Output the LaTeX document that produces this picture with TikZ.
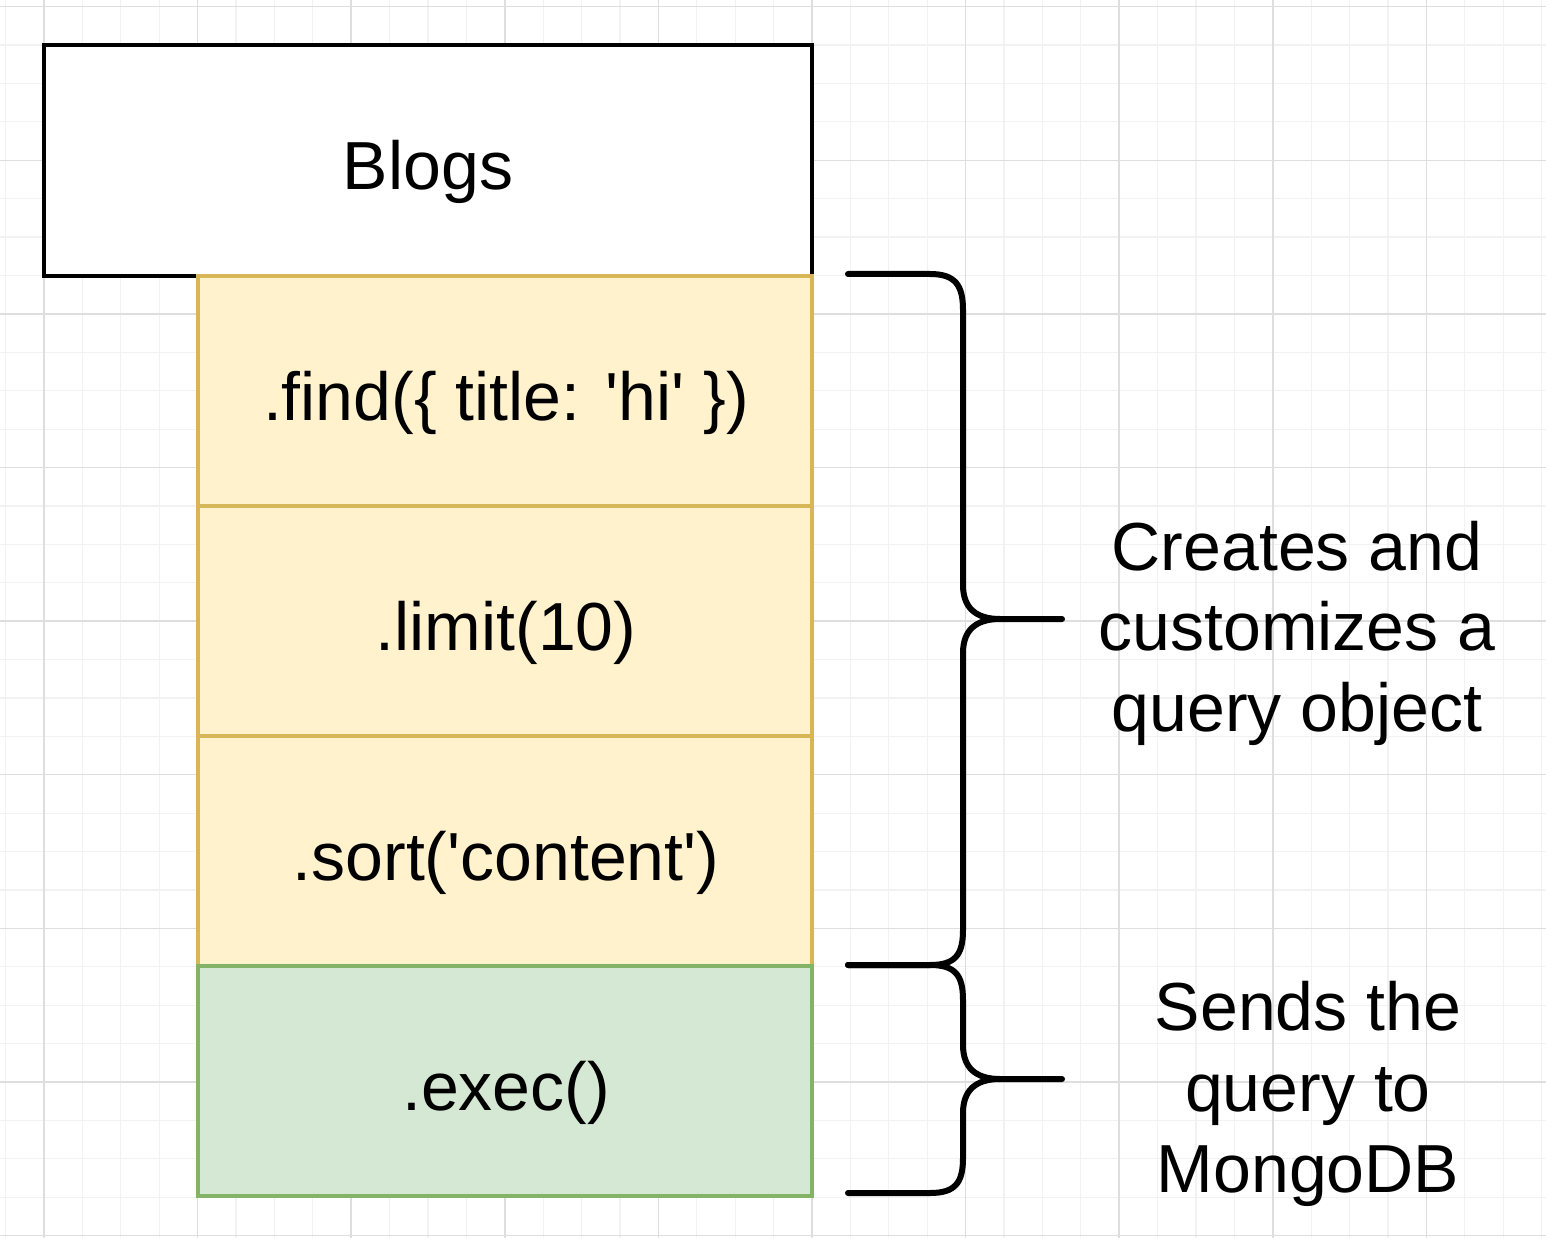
\documentclass[tikz,border=0pt]{standalone}
\usepackage{fontspec}
\setmainfont{Liberation Sans}
\definecolor{gridmajor}{HTML}{DEDEDE}
\definecolor{gridminor}{HTML}{F2F2F2}
\definecolor{yfill}{HTML}{FFF2CC}
\definecolor{ystroke}{HTML}{D6B656}
\definecolor{gfill}{HTML}{D5E8D4}
\definecolor{gstroke}{HTML}{82B366}
\newcommand{\sq}{\textquotesingle}
\tikzset{
  x=1pt, y=-1pt,
  big/.style={font=\fontsize{68}{81}\selectfont, inner sep=0pt, text=black},
  yellowbox/.style={fill=yfill, draw=ystroke, line width=3.5pt},
  greenbox/.style={fill=gfill, draw=gstroke, line width=3.5pt},
  bracestyle/.style={draw=black, line width=6pt, line cap=round, line join=round},
}
\begin{document}
\begin{tikzpicture}
\useasboundingbox (0,0) rectangle (1546,1238);
\fill[white] (0,0) rectangle (1546,1238);
% grid
\foreach \k in {-1,...,39} {
  \pgfmathsetmacro{\gx}{44+\k*38.4}
  \pgfmathsetmacro{\gy}{6.7+\k*38.4}
  \draw[gridminor, line width=1.2pt] (\gx,0) -- (\gx,1238);
  \draw[gridminor, line width=1.2pt] (0,\gy) -- (1546,\gy);
}
\foreach \k in {0,...,9} {
  \pgfmathsetmacro{\gx}{44+\k*153.6}
  \pgfmathsetmacro{\gy}{6.7+\k*153.6}
  \draw[gridmajor, line width=1.5pt] (\gx,0) -- (\gx,1238);
  \draw[gridmajor, line width=1.5pt] (0,\gy) -- (1546,\gy);
}
% boxes
\draw[fill=white, draw=black, line width=3.5pt] (44,45) rectangle (812,276);
\node[big, anchor=base] (blogs) at (428,190) {Blogs};
\draw[yellowbox] (198,276) rectangle (812,506);
\draw[yellowbox] (198,506) rectangle (812,736);
\draw[yellowbox] (198,736) rectangle (812,966);
\draw[greenbox] (198,966) rectangle (812,1196);
\node[big, anchor=base] (find) at (506,420) {.find(\{ title: \sq hi\sq{} \})};
\node[big, anchor=base] (limit) at (506,650) {.limit(10)};
\node[big, anchor=base] (sort) at (506,880) {.sort(\sq content\sq)};
\node[big, anchor=base] (exec) at (506,1110) {.exec()};
% braces
\draw[bracestyle] (848,274) -- (930,274) .. controls (955,274) and (963,285) .. (963,310)
  -- (963,585) .. controls (963,607) and (975,619) .. (1000,619) -- (1062,619);
\draw[bracestyle] (1000,619) .. controls (975,619) and (963,631) .. (963,653)
  -- (963,930) .. controls (963,955) and (955,965) .. (930,965) -- (848,965);
\draw[bracestyle] (848,965) -- (930,965) .. controls (955,965) and (963,975) .. (963,1000)
  -- (963,1045) .. controls (963,1067) and (975,1079) .. (1000,1079) -- (1062,1079);
\draw[bracestyle] (1000,1079) .. controls (975,1079) and (963,1091) .. (963,1113)
  -- (963,1158) .. controls (963,1183) and (955,1193) .. (930,1193) -- (848,1193);
% labels
\node[big, anchor=base] (c1) at (1297,570) {Creates and};
\node[big, anchor=base] (c2) at (1297,650) {customizes a};
\node[big, anchor=base] (c3) at (1297,731) {query object};
\node[big, anchor=base] (s1) at (1308,1030) {Sends the};
\node[big, anchor=base] (s2) at (1308,1111) {query to};
\node[big, anchor=base] (s3) at (1308,1192) {MongoDB};
\end{tikzpicture}
\end{document}
